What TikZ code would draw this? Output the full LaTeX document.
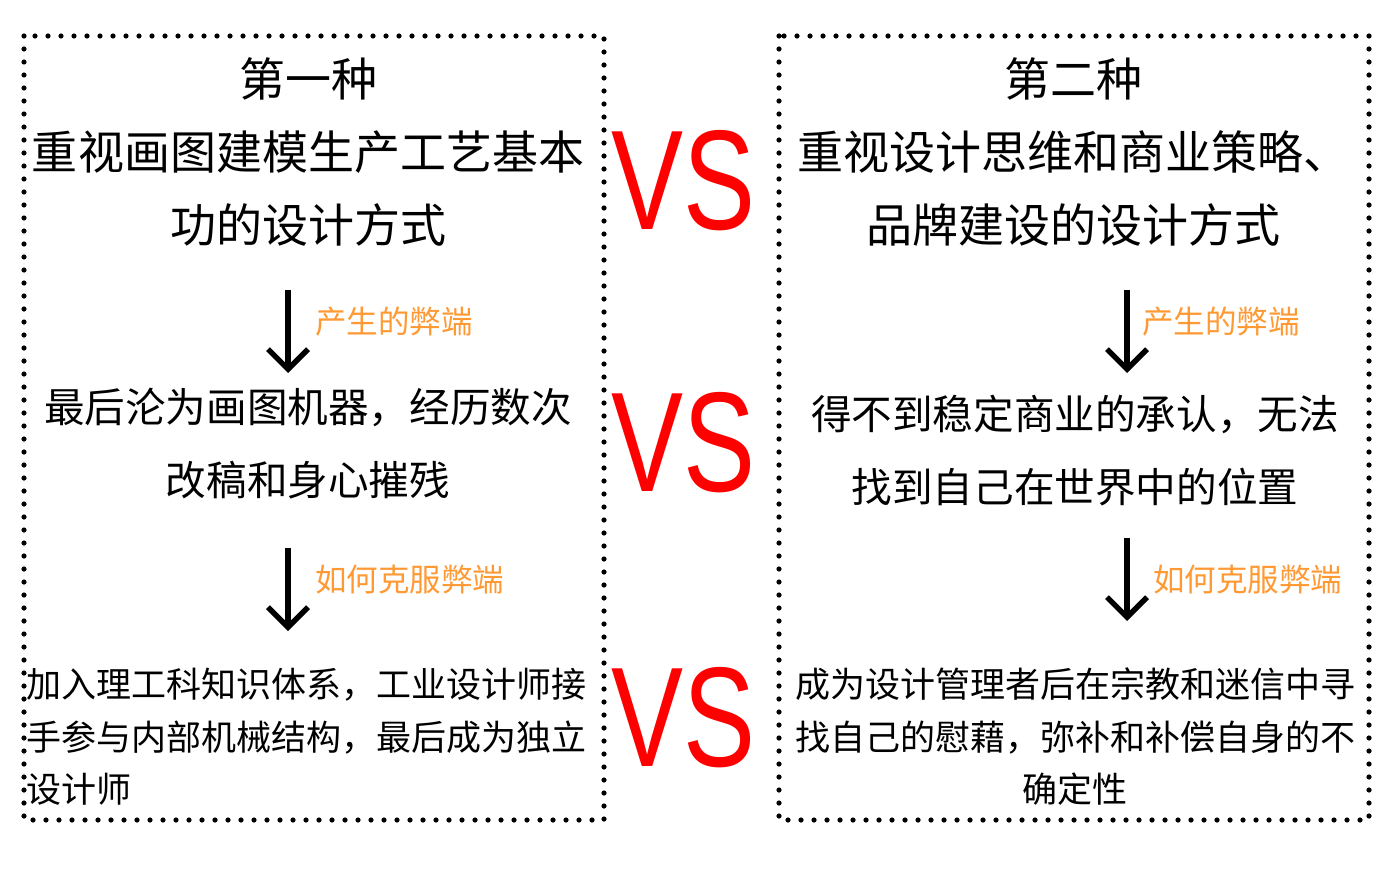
\documentclass[tikz,border=0pt]{standalone}
\usepackage{fontspec}
\usepackage{graphicx}
\setmainfont{Noto Sans CJK SC}
\newfontfamily\vsfont{Liberation Sans}
\usetikzlibrary{arrows.meta}
\definecolor{tagorange}{RGB}{255,153,51}
\definecolor{vsred}{RGB}{255,0,0}

\begin{document}
\begin{tikzpicture}[x=0.5pt,y=-0.5pt,
  dotbox/.style={line width=2.6pt,dash pattern=on 0pt off 6.5pt,line cap=round},
  headtxt/.style={font=\fontsize{23}{36.5}\selectfont,align=center,inner sep=0pt},
  midtxt/.style={font=\fontsize{20.3}{36.5}\selectfont,align=center,inner sep=0pt},
  foottxt/.style={font=\fontsize{17.5}{26.25}\selectfont,inner sep=0pt},
  tagtxt/.style={font=\fontsize{15.75}{18}\selectfont,text=tagorange,anchor=west,inner sep=0pt},
  vstxt/.style={font=\vsfont\fontsize{71}{71}\selectfont,text=vsred,inner sep=0pt},
  downarr/.style={-{Straight Barb[length=10pt,width=20pt]},line width=2.7pt}]
\useasboundingbox (0,0) rectangle (1384,872);
\draw[dotbox] (24,36) rectangle (604,820);
\draw[dotbox] (779,36) rectangle (1369,820);

\node[headtxt] (headL) at (308,152) {第一种\\重视画图建模生产工艺基本\\功的设计方式};
\node[midtxt] (midL) at (308,444) {最后沦为画图机器，经历数次\\改稿和身心摧残};
\node[foottxt,align=left,anchor=west] (footL) at (26,737) {加入理工科知识体系，工业设计师接\\手参与内部机械结构，最后成为独立\\设计师};

\node[headtxt] (headR) at (1073,152) {第二种\\重视设计思维和商业策略、\\品牌建设的设计方式};
\node[midtxt] (midR) at (1075,451) {得不到稳定商业的承认，无法\\找到自己在世界中的位置};
\node[foottxt,align=center] (footR) at (1075,737) {成为设计管理者后在宗教和迷信中寻\\找自己的慰藉，弥补和补偿自身的不\\确定性};

\node[vstxt] (vs1) at (683,181) {\scalebox{0.76}[1]{VS}};
\node[vstxt] (vs2) at (683,443) {\scalebox{0.76}[1]{VS}};
\node[vstxt] (vs3) at (683,718) {\scalebox{0.76}[1]{VS}};

\coordinate (aL1s) at (288,290);
\coordinate (aL1e) at (288,373);
\coordinate (aL2s) at (288,548);
\coordinate (aL2e) at (288,631);
\coordinate (aR1s) at (1127,290);
\coordinate (aR1e) at (1127,373);
\coordinate (aR2s) at (1127,538);
\coordinate (aR2e) at (1127,621);
\draw[downarr] (aL1s) -- (aL1e);
\draw[downarr] (aL2s) -- (aL2e);
\draw[downarr] (aR1s) -- (aR1e);
\draw[downarr] (aR2s) -- (aR2e);

\node[tagtxt] (tagL1) at (315,322) {产生的弊端};
\node[tagtxt] (tagL2) at (315,580) {如何克服弊端};
\node[tagtxt] (tagR1) at (1142,322) {产生的弊端};
\node[tagtxt] (tagR2) at (1153,580) {如何克服弊端};
\end{tikzpicture}
\end{document}
